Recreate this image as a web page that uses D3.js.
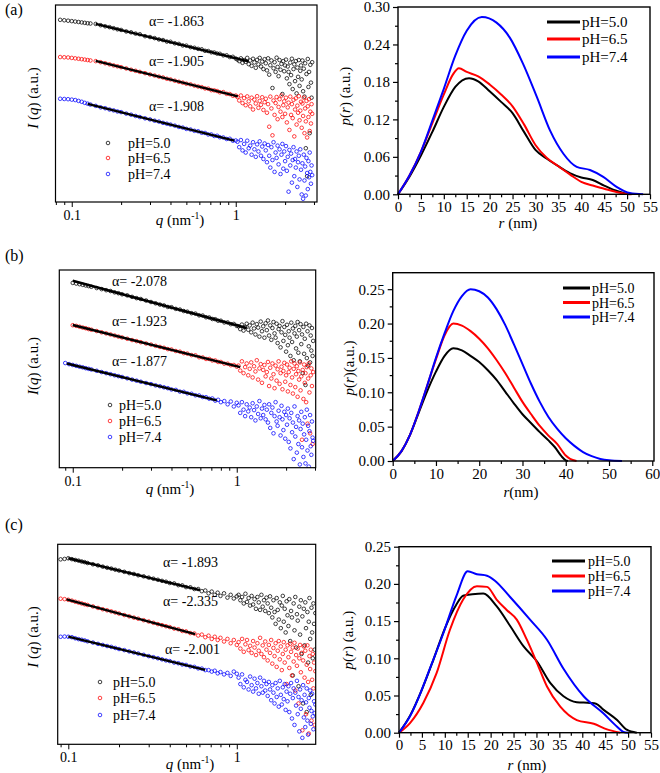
<!DOCTYPE html>
<html><head><meta charset="utf-8">
<script src="https://cdn.jsdelivr.net/npm/d3@7"></script>
<style>body{margin:0;background:#fff}svg{display:block}text{font-family:"Liberation Serif","Times New Roman",serif;fill:#000}</style>
</head><body>
<svg id="chart" width="660" height="773"></svg>
<script>
// ---------- DATA ----------
const seriesNames = ["pH=5.0", "pH=6.5", "pH=7.4"];
const colors = ["#000000", "#ff0000", "#0000ff"];

// q grid (nm^-1) shared by the scattering curves
const qLow = [0.085,0.09,0.095,0.1,0.105,0.11,0.115,0.12,0.125,0.13,0.14,0.15,0.16,0.17,0.18,0.19,0.2,0.215,0.23,0.245,0.26,0.28,0.3,0.32,0.34,0.36,0.38,0.4,0.425,0.45,0.475,0.5,0.53,0.56,0.59,0.62,0.65,0.68,0.71,0.74,0.77,0.8,0.84,0.88,0.92,0.96,1.0];
const qTail = [1.025,1.05,1.075,1.1,1.125,1.15,1.175,1.2,1.225,1.25,1.275,1.3,1.325,1.35,1.375,1.4,1.425,1.45,1.475,1.5,1.525,1.55,1.575,1.6,1.625,1.65,1.675,1.7,1.725,1.75,1.775,1.8,1.825,1.85,1.875,1.9,1.925,1.95,1.975,2,2.025,2.05,2.075,2.1,2.125,2.15,2.175,2.2,2.225,2.25,2.275,2.3,2.325,2.35,2.375,2.4,2.425,2.45,2.475,2.5,2.525,2.55,2.575,2.6,2.625,2.65,2.675,2.7,2.725,2.75,2.775,2.8,2.825,2.85,2.875,2.9,2.925];

// log10 I(q), arbitrary offsets (panel a)
const lgA50 = [8.47,8.45,8.43,8.41,8.39,8.37,8.35,8.33,8.31,8.30,8.28,8.22,8.17,8.13,8.08,8.03,8.00,7.93,7.89,7.83,7.80,7.71,7.67,7.62,7.56,7.53,7.46,7.45,7.38,7.35,7.28,7.27,7.20,7.17,7.12,7.10,7.03,7.02,6.96,6.95,6.90,6.89,6.82,6.82,6.74,6.75,6.67,
 6.62,6.55,6.68,6.47,6.60,6.52,6.70,6.41,
 6.58,6.33,6.66,6.49,6.24,6.61,6.40,6.70,6.30,6.53,6.18,6.64,
 6.45,6.12,6.68,5.92,6.36,6.58,5.30,6.22,6.50,6.05,6.71,6.28,5.85,6.60,6.15,6.42,5.02,6.55,6.08,6.35,
 6.62,5.75,6.30,6.05,5.48,6.48,5.90,6.66,5.25,6.18,6.40,5.62,6.55,5.05,6.25,5.82,6.60,5.40,6.10,6.35,
 5.70,6.58,5.15,6.20,4.90,6.45,2.50,5.95,1.20,6.65,5.35,6.05,3.20,6.38,5.55,4.85,6.50];
const lgA65 = [6.74,6.73,6.72,6.70,6.68,6.66,6.64,6.62,6.60,6.58,6.55,6.50,6.45,6.40,6.35,6.31,6.27,6.21,6.15,6.10,6.05,5.99,5.93,5.88,5.83,5.79,5.73,5.70,5.64,5.59,5.55,5.50,5.47,5.41,5.37,5.34,5.28,5.27,5.20,5.19,5.16,5.10,5.11,5.03,5.02,4.94,4.95,
 4.88,4.72,4.95,4.60,4.83,4.50,4.91,4.68,
 4.45,4.85,4.30,4.76,4.58,4.92,4.38,4.70,4.52,4.87,4.28,4.64,
 4.80,4.15,4.55,3.50,4.90,4.35,3.10,4.72,4.05,4.60,4.88,3.85,4.42,4.78,4.20,4.95,3.95,4.50,4.68,4.10,
 4.85,3.70,4.40,4.62,3.35,4.90,4.05,4.55,3.90,4.75,3.05,4.30,4.82,3.60,4.48,4.15,4.92,3.80,4.25,4.66,
 3.45,4.58,4.00,4.85,3.20,4.35,3.75,4.70,3.00,4.45,3.95,4.78,3.30,4.20,3.65,4.55,4.10];
const lgA74 = [4.80,4.79,4.78,4.76,4.74,4.70,4.66,4.61,4.57,4.53,4.47,4.40,4.36,4.30,4.26,4.21,4.18,4.11,4.06,4.00,3.95,3.89,3.84,3.78,3.74,3.68,3.64,3.60,3.55,3.49,3.46,3.40,3.37,3.31,3.29,3.22,3.21,3.14,3.14,3.07,3.08,3.01,3.00,2.93,2.94,2.85,2.86,
 2.80,2.55,2.88,2.40,2.70,2.30,2.85,2.50,
 2.62,2.20,2.78,2.45,2.10,2.68,2.35,2.82,2.15,2.58,2.00,2.72,
 2.40,1.85,2.65,2.15,1.60,2.55,1.95,2.78,1.40,2.30,2.05,2.62,1.75,2.45,1.30,2.20,2.70,1.55,2.35,1.90,
 2.60,1.45,2.10,0.48,2.42,1.70,2.25,0.90,1.95,2.55,1.20,2.00,1.60,2.35,0.70,1.85,2.15,1.05,2.45,1.50,
 0.35,1.80,0.15,2.20,1.00,1.65,0.30,2.05,1.35,0.60,1.90,1.15,2.30,1.40,0.85,1.70,1.25];

// panel b
const lgB50 = [null,null,null,8.60,8.57,8.54,8.51,8.48,8.45,8.42,8.36,8.31,8.26,8.22,8.16,8.12,8.07,8.02,7.95,7.89,7.85,7.78,7.71,7.65,7.59,7.55,7.48,7.47,7.39,7.36,7.29,7.26,7.19,7.17,7.09,7.08,7.00,6.99,6.92,6.91,6.84,6.84,6.76,6.76,6.68,6.69,6.60,
 6.58,6.45,6.66,6.38,6.55,6.70,6.42,6.62,
 6.30,6.75,6.48,6.20,6.68,6.52,6.10,6.80,6.35,6.58,6.05,6.72,
 6.40,6.85,6.15,6.62,5.95,6.50,6.78,6.25,6.05,6.70,5.80,6.45,6.60,5.60,6.30,6.82,5.90,6.55,6.18,5.40,
 6.65,5.70,6.35,6.05,5.20,6.75,5.85,6.48,5.00,6.25,6.60,5.55,6.10,6.78,5.35,6.40,4.95,6.68,5.75,6.20,
 4.40,6.55,5.30,6.00,3.85,6.70,5.10,6.35,4.75,5.65,6.62,4.90,6.15,5.45,6.50,5.20,5.90];
const lgB65 = [null,null,null,6.63,6.60,6.56,6.52,6.49,6.45,6.42,6.36,6.30,6.25,6.20,6.15,6.10,6.06,6.00,5.94,5.89,5.84,5.78,5.73,5.67,5.62,5.58,5.52,5.50,5.43,5.40,5.33,5.31,5.24,5.23,5.14,5.13,5.06,5.06,4.99,4.99,4.92,4.92,4.84,4.84,4.77,4.78,4.70,
 4.75,4.52,4.95,4.40,4.68,4.85,4.30,4.60,
 4.90,4.20,4.72,4.48,5.00,4.10,4.62,4.82,3.95,4.55,4.78,4.25,
 4.45,4.92,3.80,4.65,4.15,4.85,4.35,3.70,4.75,4.05,4.58,4.95,3.90,4.40,4.70,3.65,4.50,4.88,4.00,4.30,
 4.80,3.55,4.45,4.65,3.85,4.95,4.20,3.45,4.60,4.85,3.75,4.35,4.72,3.30,4.50,4.10,4.90,3.60,4.25,1.30,
 4.55,3.20,4.80,3.95,4.40,3.05,4.68,2.05,4.15,4.85,3.50,1.60,4.30,4.62,3.80,1.10,4.45];
const lgB74 = [null,4.87,4.82,4.78,4.74,4.70,4.67,4.63,4.60,4.57,4.51,4.45,4.40,4.35,4.30,4.26,4.22,4.16,4.10,4.05,4.00,3.94,3.89,3.83,3.79,3.74,3.70,3.64,3.62,3.54,3.53,3.46,3.44,3.37,3.36,3.29,3.28,3.21,3.22,3.12,3.16,3.05,3.10,2.95,3.08,2.85,3.02,
 2.90,2.55,3.05,2.70,2.40,2.95,2.62,2.80,
 2.35,3.00,2.68,2.20,2.85,2.50,3.10,2.30,2.75,2.45,2.92,2.25,
 2.70,2.10,2.95,1.85,2.55,2.80,1.60,2.40,3.05,2.15,1.95,2.65,2.35,1.50,2.88,2.25,1.75,2.60,1.35,2.45,
 2.00,2.75,1.20,2.30,0.90,2.55,1.65,2.10,0.40,2.85,1.45,1.90,0.70,2.40,1.10,2.20,0.15,1.80,2.60,0.95,
 2.05,0.50,1.55,2.35,0.20,1.30,2.70,0.80,1.95,0.05,1.70,2.45,1.00,0.60,2.15,1.40,1.25];

// panel c
const lgC50 = [null,8.60,8.62,8.65,8.61,8.57,8.54,8.50,8.47,8.43,8.37,8.32,8.26,8.21,8.17,8.12,8.08,8.02,7.96,7.92,7.86,7.81,7.75,7.70,7.65,7.60,7.56,7.50,7.48,7.40,7.39,7.31,7.30,7.22,7.22,7.12,7.15,7.02,7.10,6.95,7.05,6.90,7.02,6.82,6.95,6.78,6.88,
 6.95,6.70,6.85,6.55,7.00,6.62,6.80,6.45,
 6.90,6.50,6.75,6.30,6.85,6.60,6.25,6.95,6.40,6.70,6.20,6.82,
 6.55,6.10,6.88,6.35,5.90,6.70,6.15,5.60,6.80,6.25,5.80,6.60,5.40,6.45,6.90,5.70,6.30,5.20,6.65,6.00,
 5.50,6.75,4.80,6.20,5.90,3.20,6.55,5.30,6.85,4.50,6.05,5.75,2.70,6.40,5.10,6.70,4.20,5.95,1.90,6.30,
 4.60,6.60,5.40,1.50,6.15,3.80,5.70,6.80,4.90,2.30,6.35,5.20,4.00,6.55,5.60,4.40,6.10];
const lgC65 = [null,6.77,6.75,6.72,6.68,6.63,6.59,6.55,6.51,6.48,6.41,6.34,6.28,6.23,6.18,6.13,6.08,6.01,5.95,5.89,5.84,5.77,5.71,5.65,5.59,5.54,5.49,5.45,5.38,5.35,5.27,5.25,5.17,5.15,5.06,5.10,4.98,5.05,4.90,5.00,4.85,4.95,4.78,4.90,4.70,4.85,4.62,
 4.75,4.45,4.90,4.30,4.65,4.85,4.38,4.58,
 4.25,4.80,4.50,4.15,4.70,4.35,4.95,4.20,4.60,4.05,4.78,4.40,
 3.90,4.62,4.25,4.85,3.75,4.48,4.10,4.70,3.60,4.35,4.80,3.95,4.55,3.45,4.20,4.75,3.80,4.40,2.80,4.60,
 4.05,3.55,4.68,4.30,3.20,4.50,3.85,4.72,2.50,4.15,3.65,4.45,1.90,4.00,4.62,3.35,4.25,0.65,3.90,4.55,
 3.10,4.35,1.40,3.70,4.60,2.90,0.50,4.10,3.50,4.40,1.10,3.00,4.20,2.60,3.80,0.90,3.40];
const lgC74 = [null,5.00,5.01,5.00,4.98,4.93,4.89,4.86,4.83,4.79,4.73,4.67,4.62,4.57,4.53,4.48,4.43,4.38,4.32,4.27,4.22,4.16,4.10,4.05,4.00,3.95,3.90,3.87,3.80,3.77,3.71,3.69,3.62,3.60,3.53,3.52,3.45,3.45,3.38,3.42,3.30,3.36,3.25,3.32,3.18,3.38,3.28,
 3.10,2.80,3.25,2.65,3.00,2.90,2.55,3.15,
 2.75,2.45,3.05,2.60,2.85,2.35,3.10,2.70,2.40,2.95,2.50,2.80,
 2.25,2.90,2.55,2.05,2.75,2.40,1.90,2.85,2.20,2.60,1.75,2.95,2.30,1.85,2.65,2.10,2.80,1.60,2.45,2.00,
 2.70,1.50,2.35,2.85,1.20,2.15,2.60,0.90,2.40,1.80,2.95,1.40,2.20,0.60,2.55,1.65,2.05,0.30,2.75,1.25,
 2.30,0.80,1.95,2.60,1.10,0.45,2.15,1.70,2.50,0.95,1.55,2.35,1.30,0.70,2.00,1.45,1.85];

// power-law fit segments: [q start, lgI start, q end, lgI end]
const fitA = [[0.14,8.28,1.2,6.54],[0.14,6.56,1.03,4.91],[0.125,4.56,0.98,2.85]];
const fitB = [[0.1,8.70,1.15,6.50],[0.1,6.64,1.05,4.68],[0.092,4.85,0.755,3.13]];
const fitC = [[0.1,8.65,0.605,7.17],[0.0976,6.74,0.566,5.12],[0.1,5.01,0.649,3.46]];
const alphaA = ["α= -1.863","α= -1.905","α= -1.908"];
const alphaB = ["α= -2.078","α= -1.923","α= -1.877"];
const alphaC = ["α= -1.893","α= -2.335","α= -2.001"];
const qTickLabels = [0.1, 1];

// pair distance distributions p(r)
const rA50 = [0,2.5,5,7.5,10,12.5,15.5,17.5,20,22.5,25,27.5,30,32.5,35,37.5,40,42.5,45,47.5,50];
const pA50 = [0,0.028,0.062,0.100,0.140,0.172,0.186,0.181,0.165,0.148,0.130,0.100,0.071,0.057,0.045,0.034,0.027,0.023,0.014,0.006,0.0005];
const rA65 = [0,2.5,5,7.5,10,12,13.3,15,17.5,20,22.5,25,27.5,30,32.5,35,37.5,40,42.5,45,47.5,50,51];
const pA65 = [0,0.03,0.068,0.114,0.160,0.192,0.202,0.196,0.189,0.176,0.160,0.141,0.112,0.079,0.058,0.045,0.032,0.020,0.014,0.009,0.004,0.0005,0];
const rA74 = [0,2.5,5,7.5,10,12.5,15,18.3,21.5,24.4,27.3,30.3,33.2,36.1,39,41.9,44.8,47.7,50.6,53.5];
const pA74 = [0,0.03,0.068,0.118,0.169,0.222,0.262,0.284,0.275,0.251,0.209,0.156,0.102,0.065,0.044,0.039,0.028,0.012,0.002,0];

const rB50 = [0,2,4,6,8,10,12,14,16,18,20,22,24,26,28,30,32,34,36,37.5,39,40,40.5];
const pB50 = [0,0.014,0.038,0.07,0.102,0.13,0.153,0.164,0.161,0.153,0.144,0.132,0.118,0.101,0.084,0.068,0.055,0.042,0.030,0.020,0.007,0.001,0];
const rB65 = [0,2,4,6,8,10,12,14,16,18,20,22,24,26,28,30,32,34,36,38,40,41,42.5];
const pB65 = [0,0.014,0.038,0.072,0.11,0.148,0.183,0.2,0.197,0.189,0.178,0.164,0.147,0.128,0.107,0.086,0.068,0.051,0.037,0.025,0.008,0.003,0];
const rB74 = [0,2,4,6,8,10,12,14,16,18,20,22,24,26,28,30,32,34,36,38,40,42,44,46,48,50,53];
const pB74 = [0,0.014,0.038,0.072,0.11,0.15,0.186,0.218,0.24,0.25,0.247,0.238,0.221,0.198,0.17,0.141,0.112,0.086,0.064,0.047,0.033,0.022,0.013,0.007,0.003,0.001,0];

const rC50 = [0,2.5,5,7.5,10,12.5,14,16,18.4,21.3,24.3,27.2,30.1,33,35.9,38.8,41.7,43,44.6,47.6,49.7,51.9];
const pC50 = [0,0.024,0.058,0.098,0.14,0.172,0.184,0.186,0.187,0.17,0.143,0.116,0.096,0.067,0.049,0.041,0.040,0.039,0.031,0.017,0.004,0];
const rC65 = [0,2.4,5.3,8.2,11.1,14,17,19.2,21.3,23.5,25.7,27.9,30.1,32.3,35.2,38.8,42.5,45.4,48.3];
const pC65 = [0,0.013,0.04,0.08,0.138,0.179,0.197,0.196,0.179,0.165,0.152,0.125,0.094,0.062,0.035,0.017,0.012,0.0045,0];
const rC74 = [0,2.4,4.6,6.8,9.7,12.6,15,17,19.2,21,24.3,28.6,32.3,35.9,40.3,44.6,47.6,49,50];
const pC74 = [0,0.022,0.052,0.087,0.134,0.185,0.217,0.213,0.211,0.204,0.182,0.152,0.125,0.086,0.049,0.026,0.008,0.001,0];

// ---------- DRAWING ----------
const qGrid = qLow.concat(qTail);
const svg = d3.select("#chart");
const FONT = '"Liberation Serif","Times New Roman",serif';
const MR = 1.8; // marker radius

function rich(g, x, y, parts, size, opts = {}) {
  const t = g.append("text").attr("x", x).attr("y", y).attr("font-size", size)
    .attr("text-anchor", opts.anchor || "start");
  if (opts.rotate) t.attr("transform", `rotate(-90,${x},${y})`);
  parts.forEach(p => {
    const [s, st] = Array.isArray(p) ? p : [p, ""];
    const ts = t.append("tspan").text(s);
    if (st === "i") ts.attr("font-style", "italic");
    if (st === "sup") ts.attr("font-size", size * 0.65).attr("dy", -size * 0.38);
    if (st === "unsup") ts.attr("dy", size * 0.38);
  });
  return t;
}

function leftPanel(o) {
  const g = svg.append("g");
  const x = d3.scaleLog().domain(o.qDom).range([o.x0, o.x1]);
  const y = d3.scaleLinear().domain([0, o.yTop]).range([o.y1, o.y0]);
  const cid = "clip" + o.id;
  svg.append("clipPath").attr("id", cid).append("rect")
    .attr("x", o.x0).attr("y", o.y0).attr("width", o.x1 - o.x0).attr("height", o.y1 - o.y0);
  const pg = g.append("g").attr("clip-path", `url(#${cid})`);
  [0, 1, 2].forEach(i => {
    const pts = qGrid.map((q, j) => [q, o.series[i][j]]).filter(d => d[1] != null);
    pg.append("g").selectAll("circle").data(pts).join("circle")
      .attr("cx", d => x(d[0])).attr("cy", d => y(d[1])).attr("r", MR)
      .attr("fill", "none").attr("stroke", colors[i]).attr("stroke-width", 0.75);
  });
  o.fits.forEach(f => {
    pg.append("line").attr("x1", x(f[0])).attr("y1", y(f[1])).attr("x2", x(f[2])).attr("y2", y(f[3]))
      .attr("stroke", "#000").attr("stroke-width", 2.4);
  });
  // axes
  const minor = [0.08,0.09,0.2,0.3,0.4,0.5,0.6,0.7,0.8,0.9,2,3].filter(v => v >= o.qDom[0] && v <= o.qDom[1]);
  const axMinor = g.append("g").attr("transform", `translate(0,${o.y1})`)
    .call(d3.axisBottom(x).tickValues(minor).tickSize(3).tickFormat(""));
  const axMajor = g.append("g").attr("transform", `translate(0,${o.y1})`)
    .call(d3.axisBottom(x).tickValues(qTickLabels).tickSize(5).tickPadding(3).tickFormat(d => String(d)));
  [axMinor, axMajor].forEach(a => { a.select(".domain").remove(); a.selectAll("line").attr("stroke", "#000").attr("stroke-width", 1); });
  axMajor.selectAll("text").attr("font-size", 14).attr("font-family", FONT).attr("fill", "#000");
  g.append("rect").attr("x", o.x0).attr("y", o.y0).attr("width", o.x1 - o.x0).attr("height", o.y1 - o.y0)
    .attr("fill", "none").attr("stroke", "#000").attr("stroke-width", 1.2);
  // alpha labels
  o.alphas.forEach((s, i) => rich(g, o.alphaPos[i][0], o.alphaPos[i][1], [s], 14));
  // legend
  seriesNames.forEach((s, i) => {
    g.append("circle").attr("cx", o.leg.mx).attr("cy", o.leg.ys[i]).attr("r", MR)
      .attr("fill", "none").attr("stroke", colors[i]).attr("stroke-width", 0.75);
    rich(g, o.leg.tx, o.leg.ys[i] + 5, [s], 14);
  });
  // titles
  rich(g, o.xt[0], o.xt[1], [["q", "i"], " (nm", ["-1", "sup"], [")", "unsup"]], 15, { anchor: "middle" });
  rich(g, o.yt[0], o.yt[1], o.ytParts, 15, { anchor: "middle", rotate: true });
  rich(g, 5, o.letterY, [o.letter], 16);
}

function rightPanel(o) {
  const g = svg.append("g");
  const x = d3.scaleLinear().domain(o.xDom).range([o.x0, o.x1]);
  const y = d3.scaleLinear().domain(o.yDom).range([o.y1, o.y0]);
  const line = d3.line().x(d => x(d[0])).y(d => y(d[1])).curve(d3.curveMonotoneX);
  o.curves.forEach((c, i) => {
    g.append("path").datum(c[0].map((r, j) => [r, c[1][j]])).attr("d", line)
      .attr("fill", "none").attr("stroke", colors[i]).attr("stroke-width", 2);
  });
  const xa = g.append("g").attr("transform", `translate(0,${o.y1})`)
    .call(d3.axisBottom(x).tickValues(o.xMajor).tickSize(5).tickPadding(2).tickFormat(d3.format("d")));
  const xm = g.append("g").attr("transform", `translate(0,${o.y1})`)
    .call(d3.axisBottom(x).tickValues(o.xMinor).tickSize(3).tickFormat(""));
  const ya = g.append("g").attr("transform", `translate(${o.x0},0)`)
    .call(d3.axisLeft(y).tickValues(o.yMajor).tickSize(5).tickPadding(3).tickFormat(d3.format(".2f")));
  const ym = g.append("g").attr("transform", `translate(${o.x0},0)`)
    .call(d3.axisLeft(y).tickValues(o.yMinor).tickSize(3).tickFormat(""));
  [xa, xm, ya, ym].forEach(a => { a.select(".domain").remove(); a.selectAll("line").attr("stroke", "#000").attr("stroke-width", 1.2); });
  [xa, ya].forEach(a => a.selectAll("text").attr("font-size", 15).attr("font-family", FONT).attr("fill", "#000"));
  g.append("rect").attr("x", o.x0).attr("y", o.y0).attr("width", o.x1 - o.x0).attr("height", o.y1 - o.y0)
    .attr("fill", "none").attr("stroke", "#000").attr("stroke-width", 1.4);
  // legend
  seriesNames.forEach((s, i) => {
    g.append("line").attr("x1", o.leg.x0).attr("x2", o.leg.x1).attr("y1", o.leg.ys[i]).attr("y2", o.leg.ys[i])
      .attr("stroke", colors[i]).attr("stroke-width", 3);
    rich(g, o.leg.tx, o.leg.ys[i] + 5, [s], o.leg.size);
  });
  rich(g, o.xt[0], o.xt[1], o.xtParts, 15, { anchor: "middle" });
  rich(g, o.yt[0], o.yt[1], o.ytParts, 15, { anchor: "middle", rotate: true });
}

const yTitleI = [["I", "i"], " (", ["q", "i"], ") (a.u.)"];
const yTitleI2 = [["I", "i"], "(", ["q", "i"], ") (a.u.)"];
const yTitleP = [["p", "i"], "(", ["r", "i"], ") (a.u.)"];
const yTitleP2 = [["p", "i"], "(", ["r", "i"], ")(a.u.)"];

leftPanel({ id: "a", x0: 55.5, x1: 317, y0: 5, y1: 202, qDom: [0.0796, 3.13], yTop: 9.16,
  series: [lgA50, lgA65, lgA74], fits: fitA, alphas: alphaA,
  alphaPos: [[149, 26], [149, 66], [149, 111]],
  leg: { mx: 108, tx: 128, ys: [143, 158, 174] },
  xt: [180, 225], yt: [38, 98], ytParts: yTitleI, letter: "(a)", letterY: 15 });
leftPanel({ id: "b", x0: 59.3, x1: 315.7, y0: 270, y1: 467.7, qDom: [0.0828, 3.03], yTop: 9.2,
  series: [lgB50, lgB65, lgB74], fits: fitB, alphas: alphaB,
  alphaPos: [[112, 286], [112, 326], [112, 366]],
  leg: { mx: 110, tx: 119, ys: [405, 421, 437] },
  xt: [170, 494], yt: [38, 366], ytParts: yTitleI2, letter: "(b)", letterY: 261 });
leftPanel({ id: "c", x0: 57.7, x1: 315.7, y0: 544.3, y1: 744.3, qDom: [0.0865, 2.94], yTop: 9.3,
  series: [lgC50, lgC65, lgC74], fits: fitC, alphas: alphaC,
  alphaPos: [[163, 567], [163, 606], [165, 654]],
  leg: { mx: 100, tx: 113, ys: [682, 698, 715] },
  xt: [190, 769], yt: [38, 637], ytParts: yTitleI, letter: "(c)", letterY: 530 });

rightPanel({ x0: 398, x1: 650, y0: 7, y1: 194.3, xDom: [0, 55], yDom: [0, 0.30],
  curves: [[rA50, pA50], [rA65, pA65], [rA74, pA74]],
  xMajor: d3.range(0, 56, 5), xMinor: d3.range(2.5, 55, 5),
  yMajor: [0, 0.06, 0.12, 0.18, 0.24, 0.30], yMinor: [0.03, 0.09, 0.15, 0.21, 0.27],
  leg: { x0: 547, x1: 580, tx: 582, ys: [22, 39, 57], size: 15 },
  xt: [518, 228], xtParts: [["r", "i"], " (nm)"], yt: [350, 96], ytParts: yTitleP });
rightPanel({ x0: 392.7, x1: 654, y0: 272.7, y1: 461, xDom: [0, 60.4], yDom: [0, 0.274],
  curves: [[rB50, pB50], [rB65, pB65], [rB74, pB74]],
  xMajor: d3.range(0, 61, 10), xMinor: d3.range(5, 60, 10),
  yMajor: [0, 0.05, 0.10, 0.15, 0.20, 0.25], yMinor: [0.025, 0.075, 0.125, 0.175, 0.225],
  leg: { x0: 563, x1: 590, tx: 592, ys: [288, 302.5, 317], size: 14 },
  xt: [521, 497], xtParts: [["r", "i"], "(nm)"], yt: [354, 368], ytParts: yTitleP2 });
rightPanel({ x0: 399, x1: 651, y0: 546.7, y1: 732.7, xDom: [0, 55], yDom: [0, 0.25],
  curves: [[rC50, pC50], [rC65, pC65], [rC74, pC74]],
  xMajor: d3.range(0, 56, 5), xMinor: d3.range(2.5, 55, 5),
  yMajor: [0, 0.05, 0.10, 0.15, 0.20, 0.25], yMinor: [0.025, 0.075, 0.125, 0.175, 0.225],
  leg: { x0: 552, x1: 585, tx: 588, ys: [561, 576, 591], size: 14 },
  xt: [527, 770], xtParts: [["r", "i"], " (nm)"], yt: [353, 640], ytParts: yTitleP });
</script>
</body></html>
